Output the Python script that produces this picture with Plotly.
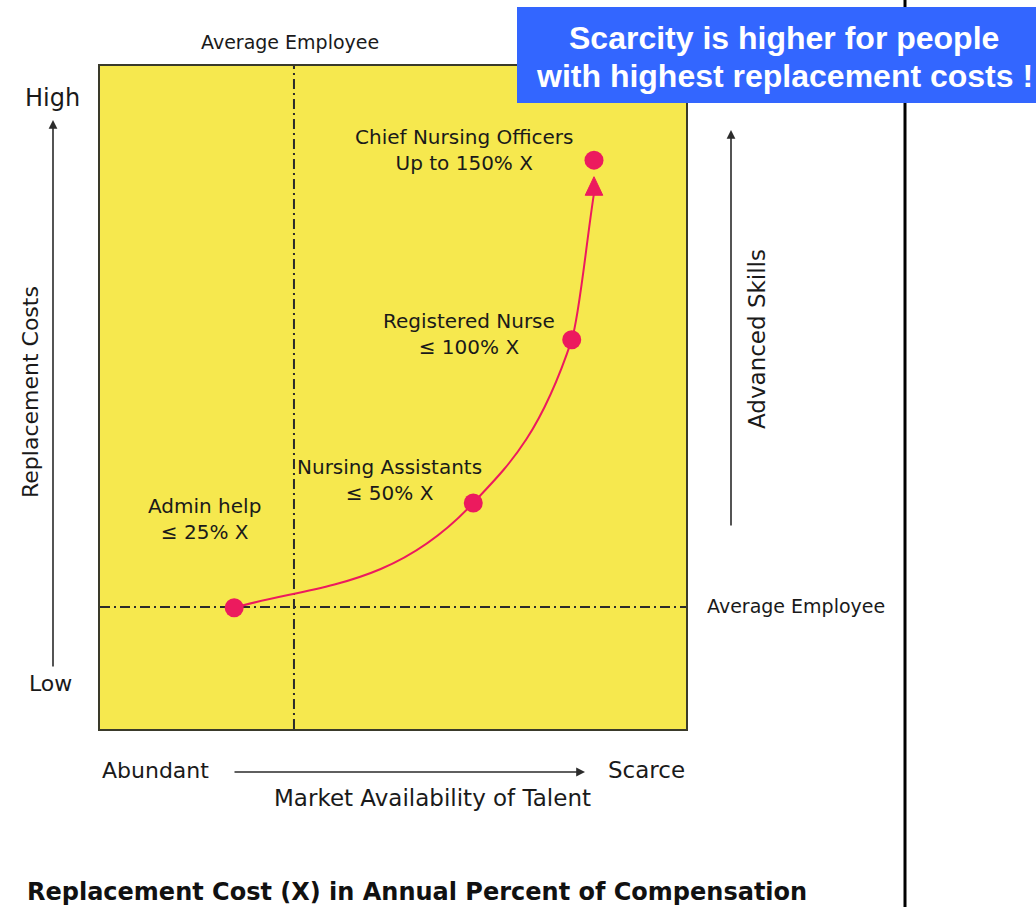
import plotly.graph_objects as go

# Staff roles, their replacement-cost labels and where they sit on the grid
roles = ["Admin help", "Nursing Assistants", "Registered Nurse", "Chief Nursing Officers"]
cost_labels = ["≤ 25% X", "≤ 50% X", "≤ 100% X", "Up to 150% X"]
availability = [22.9, 63.7, 80.5, 84.3]     # market scarcity (0 = abundant, 100 = scarce)
replacement = [18.3, 34.1, 58.7, 85.8]      # replacement cost (0 = low, 100 = high)

# Reference lines for the average employee
avg_availability = 33.1
avg_replacement = 18.4

W, H = 1036, 907
PLOT_X0, PLOT_X1 = 100, 686
PLOT_Y0, PLOT_Y1 = 66, 729
PINK = "#ec1a5e"
INK = "#2b2b2b"
FONT = "DejaVu Sans"

# curve styling: gap below the top point where the arrow sits, and the
# slope of the curve (data units) as it passes through each node
ARROW_GAP = 5.0
ARROW_TIP = 2.5
ARROW_HALF_WIDTH = 1.5
NODE_SLOPES = [0.25, 0.95, 2.65, 5.6]


def px(x):
    return x / W


def py(y):
    return 1 - y / H


fig = go.Figure()

# smooth curve (cubic Hermite segments) from the admin point to the arrow base
nodes_x = availability[:3] + [availability[3]]
nodes_y = replacement[:3] + [replacement[3] - ARROW_GAP]
path = f"M {nodes_x[0]},{nodes_y[0]}"
for i in range(len(nodes_x) - 1):
    h = (nodes_x[i + 1] - nodes_x[i]) / 3
    c1x, c1y = nodes_x[i] + h, nodes_y[i] + NODE_SLOPES[i] * h
    c2x, c2y = nodes_x[i + 1] - h, nodes_y[i + 1] - NODE_SLOPES[i + 1] * h
    path += f" C {c1x},{c1y} {c2x},{c2y} {nodes_x[i + 1]},{nodes_y[i + 1]}"

# arrowhead resting just under the top point
tip_x, tip_y = availability[3], replacement[3] - ARROW_TIP
base_y = replacement[3] - ARROW_GAP - 0.3
arrow_path = (f"M {tip_x - ARROW_HALF_WIDTH},{base_y} L {tip_x},{tip_y} "
              f"L {tip_x + ARROW_HALF_WIDTH},{base_y} Z")

# role points
fig.add_trace(go.Scatter(
    x=availability, y=replacement, mode="markers",
    marker=dict(size=19, color=PINK),
    text=roles, hoverinfo="text", showlegend=False,
))

shapes = [
    dict(type="line", xref="x", yref="y", x0=avg_availability, x1=avg_availability,
         y0=0, y1=100, layer="below", line=dict(color=INK, width=2, dash="10px,4px,2px,4px")),
    dict(type="line", xref="x", yref="y", x0=0, x1=100,
         y0=avg_replacement, y1=avg_replacement, layer="below",
         line=dict(color=INK, width=2, dash="10px,4px,2px,4px")),
    dict(type="path", xref="x", yref="y", path=path, layer="below",
         line=dict(color=PINK, width=2)),
    dict(type="path", xref="x", yref="y", path=arrow_path, layer="below",
         fillcolor=PINK, line=dict(color=PINK, width=1)),
    # page divider
    dict(type="line", xref="paper", yref="paper", x0=px(905), x1=px(905), y0=0, y1=1,
         line=dict(color="black", width=3)),
    # callout box
    dict(type="rect", xref="paper", yref="paper", x0=px(517), x1=px(1036),
         y0=py(103), y1=py(7), fillcolor="#3366ff", line=dict(width=0)),
]

annotations = []


def label(x, y, text, size=16, xanchor="center", weight="normal", color="#1a1a1a",
          family=FONT, **kw):
    annotations.append(dict(
        x=px(x), y=py(y), xref="paper", yref="paper", text=text, showarrow=False,
        xanchor=xanchor, yanchor="middle",
        font=dict(family=family, size=size, color=color, weight=weight), **kw))


# role labels
label_pos = [(204, 519), (389, 480), (469, 334), (464, 150)]
for (lx, ly), role, cost in zip(label_pos, roles, cost_labels):
    label(lx, ly, f"{role}<br>{cost}", size=20)

label(290, 42, "Average Employee", size=19)
label(796, 606, "Average Employee", size=19)
label(52, 98, "High", size=24)
label(50, 683, "Low", size=22)
label(155, 770, "Abundant", size=22)
label(646, 770, "Scarce", size=23)
label(432, 798, "Market Availability of Talent", size=23)
label(30, 392, "Replacement Costs", size=22, textangle=-90)
label(757, 339, "Advanced Skills", size=23, textangle=-90)
label(25, 892, "Replacement Cost (X) in Annual Percent of Compensation", size=24,
      xanchor="left", weight="bold", color="#111")

# direction arrows
for hx, hy, ax, ay in [(53, 120, 0, 548), (731, 130, 0, 397), (585, 772, -352, 0)]:
    annotations.append(dict(
        x=px(hx), y=py(hy), xref="paper", yref="paper", ax=ax, ay=ay,
        showarrow=True, arrowhead=2, arrowsize=1.1, arrowwidth=1.6, arrowcolor=INK,
        text=""))

# callout text
label(784, 38, "Scarcity is higher for people", size=32, weight="bold",
      color="white", family="Liberation Sans")
label(784, 76, "with highest replacement costs !", size=32, weight="bold",
      color="white", family="Liberation Sans")

axis_common = dict(showgrid=False, zeroline=False, showticklabels=False, ticks="",
                   showline=True, mirror=True, linecolor="#3a3a2a", linewidth=2,
                   fixedrange=True)
fig.update_layout(
    width=W, height=H, margin=dict(l=0, r=0, t=0, b=0),
    paper_bgcolor="white", plot_bgcolor="#f6e84e",
    xaxis=dict(domain=[px(PLOT_X0), px(PLOT_X1)], range=[0, 100], **axis_common),
    yaxis=dict(domain=[py(PLOT_Y1), py(PLOT_Y0)], range=[0, 100], **axis_common),
    shapes=shapes, annotations=annotations, showlegend=False,
)

fig.write_html("out.html")
